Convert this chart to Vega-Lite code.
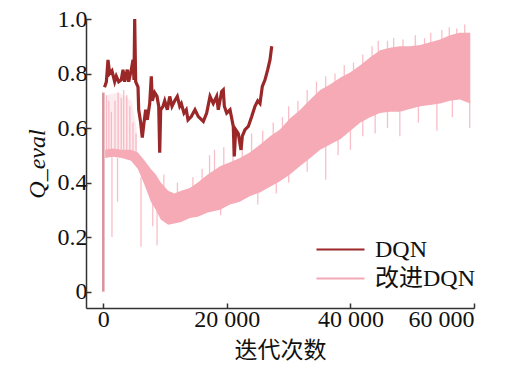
{
  "$schema": "https://vega.github.io/schema/vega-lite/v6.json",
  "width": 388,
  "height": 289,
  "autosize": {"type": "none"},
  "padding": {"left": 86, "top": 19, "right": 31, "bottom": 59},
  "background": "white",
  "config": {
    "view": {"stroke": null},
    "axis": {
      "grid": false,
      "labelFont": "Liberation Serif",
      "labelFontSize": 24,
      "labelColor": "#111",
      "domainColor": "#333",
      "domainWidth": 1.5,
      "tickColor": "#333",
      "tickWidth": 1.5,
      "tickSize": -5,
      "titleColor": "#111",
      "titleFontWeight": "normal"
    }
  },
  "datasets": {
    "band": [
      {"x": 300, "y": 0.49, "y2": 0.52},
      {"x": 1500, "y": 0.495, "y2": 0.525},
      {"x": 3000, "y": 0.49, "y2": 0.52},
      {"x": 4500, "y": 0.48, "y2": 0.52},
      {"x": 5600, "y": 0.45, "y2": 0.51},
      {"x": 6700, "y": 0.39, "y2": 0.48},
      {"x": 7700, "y": 0.33, "y2": 0.45},
      {"x": 8500, "y": 0.30, "y2": 0.43},
      {"x": 9300, "y": 0.265, "y2": 0.40},
      {"x": 10500, "y": 0.245, "y2": 0.37},
      {"x": 11500, "y": 0.25, "y2": 0.36},
      {"x": 12600, "y": 0.255, "y2": 0.37},
      {"x": 14000, "y": 0.27, "y2": 0.38},
      {"x": 15300, "y": 0.275, "y2": 0.40},
      {"x": 16900, "y": 0.29, "y2": 0.43},
      {"x": 18900, "y": 0.30, "y2": 0.46},
      {"x": 20500, "y": 0.32, "y2": 0.475},
      {"x": 22100, "y": 0.33, "y2": 0.49},
      {"x": 23700, "y": 0.35, "y2": 0.51},
      {"x": 25400, "y": 0.365, "y2": 0.54},
      {"x": 27000, "y": 0.385, "y2": 0.57},
      {"x": 28600, "y": 0.405, "y2": 0.595},
      {"x": 30200, "y": 0.43, "y2": 0.635},
      {"x": 31800, "y": 0.46, "y2": 0.665},
      {"x": 33500, "y": 0.49, "y2": 0.705},
      {"x": 35100, "y": 0.52, "y2": 0.74},
      {"x": 36700, "y": 0.54, "y2": 0.76},
      {"x": 38400, "y": 0.56, "y2": 0.785},
      {"x": 40000, "y": 0.59, "y2": 0.805},
      {"x": 41600, "y": 0.62, "y2": 0.83},
      {"x": 43200, "y": 0.64, "y2": 0.86},
      {"x": 44800, "y": 0.655, "y2": 0.885},
      {"x": 46400, "y": 0.66, "y2": 0.895},
      {"x": 48000, "y": 0.66, "y2": 0.90},
      {"x": 49600, "y": 0.67, "y2": 0.90},
      {"x": 51300, "y": 0.68, "y2": 0.905},
      {"x": 52900, "y": 0.685, "y2": 0.915},
      {"x": 54500, "y": 0.69, "y2": 0.925},
      {"x": 56100, "y": 0.70, "y2": 0.94},
      {"x": 57700, "y": 0.705, "y2": 0.95},
      {"x": 59400, "y": 0.69, "y2": 0.95}
    ],
    "faint": [
      {"x": 400, "y": 0.52, "y2": 0.72},
      {"x": 2500, "y": 0.52, "y2": 0.73},
      {"x": 4600, "y": 0.52, "y2": 0.70},
      {"x": 5400, "y": 0.5, "y2": 0.6}
    ],
    "spikes": [
      {"x": 500, "y": 0.5, "y2": 0.72},
      {"x": 900, "y": 0.5, "y2": 0.70},
      {"x": 1300, "y": 0.5, "y2": 0.66},
      {"x": 1900, "y": 0.5, "y2": 0.70},
      {"x": 2400, "y": 0.5, "y2": 0.73},
      {"x": 2900, "y": 0.5, "y2": 0.71},
      {"x": 3300, "y": 0.5, "y2": 0.74},
      {"x": 3800, "y": 0.5, "y2": 0.72},
      {"x": 4300, "y": 0.5, "y2": 0.68},
      {"x": 4800, "y": 0.5, "y2": 0.62},
      {"x": 5300, "y": 0.48, "y2": 0.58},
      {"x": 1400, "y": 0.2, "y2": 0.5},
      {"x": 2300, "y": 0.33, "y2": 0.49},
      {"x": 6100, "y": 0.165, "y2": 0.42},
      {"x": 8000, "y": 0.24, "y2": 0.38},
      {"x": 8700, "y": 0.17, "y2": 0.30},
      {"x": 9800, "y": 0.36, "y2": 0.43},
      {"x": 12000, "y": 0.33, "y2": 0.40},
      {"x": 14500, "y": 0.35, "y2": 0.42},
      {"x": 16000, "y": 0.38, "y2": 0.45},
      {"x": 17200, "y": 0.40, "y2": 0.50},
      {"x": 18000, "y": 0.42, "y2": 0.52},
      {"x": 19500, "y": 0.44, "y2": 0.53},
      {"x": 21000, "y": 0.45, "y2": 0.55},
      {"x": 22500, "y": 0.47, "y2": 0.54},
      {"x": 24000, "y": 0.49, "y2": 0.58},
      {"x": 25800, "y": 0.52, "y2": 0.59},
      {"x": 27500, "y": 0.55, "y2": 0.62},
      {"x": 29000, "y": 0.57, "y2": 0.64},
      {"x": 30000, "y": 0.60, "y2": 0.68},
      {"x": 31500, "y": 0.63, "y2": 0.70},
      {"x": 33000, "y": 0.67, "y2": 0.74},
      {"x": 34500, "y": 0.71, "y2": 0.77},
      {"x": 36000, "y": 0.73, "y2": 0.79},
      {"x": 37500, "y": 0.75, "y2": 0.80},
      {"x": 39000, "y": 0.77, "y2": 0.83},
      {"x": 40500, "y": 0.79, "y2": 0.84},
      {"x": 42000, "y": 0.81, "y2": 0.87},
      {"x": 43500, "y": 0.84, "y2": 0.90},
      {"x": 44500, "y": 0.86, "y2": 0.92},
      {"x": 46000, "y": 0.87, "y2": 0.92},
      {"x": 47000, "y": 0.88, "y2": 0.93},
      {"x": 48500, "y": 0.88, "y2": 0.925},
      {"x": 50500, "y": 0.89, "y2": 0.94},
      {"x": 52000, "y": 0.90, "y2": 0.93},
      {"x": 53000, "y": 0.90, "y2": 0.95},
      {"x": 54800, "y": 0.91, "y2": 0.96},
      {"x": 56000, "y": 0.92, "y2": 0.97},
      {"x": 57200, "y": 0.93, "y2": 0.965},
      {"x": 58500, "y": 0.93, "y2": 0.98},
      {"x": 19000, "y": 0.28, "y2": 0.32},
      {"x": 25000, "y": 0.32, "y2": 0.38},
      {"x": 28000, "y": 0.36, "y2": 0.41},
      {"x": 30000, "y": 0.40, "y2": 0.45},
      {"x": 33000, "y": 0.44, "y2": 0.50},
      {"x": 36000, "y": 0.41, "y2": 0.55},
      {"x": 38000, "y": 0.50, "y2": 0.57},
      {"x": 40000, "y": 0.52, "y2": 0.60},
      {"x": 42000, "y": 0.57, "y2": 0.63},
      {"x": 44000, "y": 0.58, "y2": 0.66},
      {"x": 46000, "y": 0.60, "y2": 0.67},
      {"x": 48000, "y": 0.57, "y2": 0.67},
      {"x": 51000, "y": 0.62, "y2": 0.69},
      {"x": 54000, "y": 0.59, "y2": 0.70},
      {"x": 56500, "y": 0.64, "y2": 0.71},
      {"x": 59300, "y": 0.60, "y2": 0.70}
    ],
    "start": [
      {"x": 0, "y": 0, "y2": 0.73}
    ],
    "dqn": [
      {"x": 200, "y": 0.75}, {"x": 500, "y": 0.77}, {"x": 760, "y": 0.85}, {"x": 1030, "y": 0.80},
      {"x": 1400, "y": 0.81}, {"x": 1840, "y": 0.77}, {"x": 2100, "y": 0.79}, {"x": 2490, "y": 0.77},
      {"x": 2910, "y": 0.777}, {"x": 3190, "y": 0.814}, {"x": 3460, "y": 0.77}, {"x": 3880, "y": 0.814},
      {"x": 4110, "y": 0.77}, {"x": 4530, "y": 0.814}, {"x": 4810, "y": 0.85}, {"x": 4970, "y": 0.777},
      {"x": 5080, "y": 1.0}, {"x": 5240, "y": 0.77}, {"x": 5620, "y": 0.75}, {"x": 5730, "y": 0.667},
      {"x": 6050, "y": 0.62}, {"x": 6310, "y": 0.565}, {"x": 6590, "y": 0.62}, {"x": 6860, "y": 0.667},
      {"x": 7120, "y": 0.63}, {"x": 7510, "y": 0.69}, {"x": 7770, "y": 0.79}, {"x": 7930, "y": 0.70},
      {"x": 8320, "y": 0.73}, {"x": 8690, "y": 0.716}, {"x": 8970, "y": 0.68}, {"x": 9130, "y": 0.51},
      {"x": 9290, "y": 0.667}, {"x": 9660, "y": 0.68}, {"x": 9940, "y": 0.70}, {"x": 10360, "y": 0.667},
      {"x": 10750, "y": 0.716}, {"x": 11120, "y": 0.68}, {"x": 11560, "y": 0.70}, {"x": 11980, "y": 0.716},
      {"x": 12370, "y": 0.68}, {"x": 12630, "y": 0.69}, {"x": 13060, "y": 0.655}, {"x": 13430, "y": 0.667},
      {"x": 13710, "y": 0.63}, {"x": 14240, "y": 0.642}, {"x": 14840, "y": 0.667}, {"x": 15380, "y": 0.642},
      {"x": 16190, "y": 0.624}, {"x": 16730, "y": 0.655}, {"x": 17270, "y": 0.716}, {"x": 17800, "y": 0.69},
      {"x": 18350, "y": 0.716}, {"x": 18610, "y": 0.667}, {"x": 19160, "y": 0.734}, {"x": 19420, "y": 0.74},
      {"x": 19590, "y": 0.68}, {"x": 19970, "y": 0.655}, {"x": 20510, "y": 0.667}, {"x": 21040, "y": 0.606},
      {"x": 21200, "y": 0.496}, {"x": 21430, "y": 0.594}, {"x": 21850, "y": 0.58}, {"x": 22290, "y": 0.52},
      {"x": 22500, "y": 0.57}, {"x": 22940, "y": 0.594}, {"x": 23470, "y": 0.606}, {"x": 24020, "y": 0.642},
      {"x": 24550, "y": 0.68}, {"x": 24990, "y": 0.70}, {"x": 25360, "y": 0.69}, {"x": 25740, "y": 0.753},
      {"x": 26170, "y": 0.777}, {"x": 26610, "y": 0.814}, {"x": 26980, "y": 0.85}, {"x": 27260, "y": 0.90}
    ]
  },
  "encoding": {
    "x": {
      "field": "x",
      "type": "quantitative",
      "scale": {"domain": [-2800, 60000], "nice": false, "zero": false},
      "axis": {
        "values": [0, 20000, 40000, 60000],
        "labelExpr": "replace(format(datum.value, ','), ',', ' ')",
        "labelPadding": 4,
        "title": "迭代次数",
        "titleFont": "Noto Sans CJK SC",
        "titleFontSize": 23,
        "titlePadding": 8
      }
    },
    "y": {
      "field": "y",
      "type": "quantitative",
      "scale": {"domain": [-0.06, 1.0], "nice": false, "zero": false},
      "axis": {
        "values": [0, 0.2, 0.4, 0.6, 0.8, 1.0],
        "labelExpr": "datum.value == 0 ? '0' : format(datum.value, '.1f')",
        "labelPadding": 4,
        "title": "Q_eval",
        "titleFont": "Liberation Serif",
        "titleFontStyle": "italic",
        "titleFontSize": 24,
        "titlePadding": 8
      }
    }
  },
  "layer": [
    {
      "data": {"name": "faint"},
      "mark": {"type": "area", "color": "#F5AAB6", "opacity": 0.22},
      "encoding": {"y2": {"field": "y2"}}
    },
    {
      "data": {"name": "spikes"},
      "mark": {"type": "rule", "color": "#F5AAB6", "strokeWidth": 1.3, "opacity": 0.75},
      "encoding": {"y2": {"field": "y2"}}
    },
    {
      "data": {"name": "band"},
      "mark": {"type": "area", "color": "#F5AAB6", "opacity": 1},
      "encoding": {"y2": {"field": "y2"}}
    },
    {
      "data": {"name": "start"},
      "mark": {"type": "rule", "color": "#D8939C", "strokeWidth": 2.5},
      "encoding": {"y2": {"field": "y2"}}
    },
    {
      "data": {"name": "dqn"},
      "mark": {"type": "line", "strokeWidth": 3.2},
      "encoding": {
        "color": {
          "datum": "DQN",
          "type": "nominal",
          "scale": {"domain": ["DQN", "改进DQN"], "range": ["#9B2828", "#F3A9B7"]},
          "legend": {
            "orient": "none",
            "legendX": 241,
            "legendY": 217,
            "padding": 0,
            "title": null,
            "symbolType": "M-2,0L2,0",
            "symbolSize": 576,
            "symbolStrokeWidth": 2.2,
            "labelFont": "Liberation Serif, Noto Sans CJK SC",
            "labelFontSize": 24,
            "labelColor": "#111",
            "labelOffset": 21,
            "rowPadding": 3
          }
        }
      }
    }
  ]
}
